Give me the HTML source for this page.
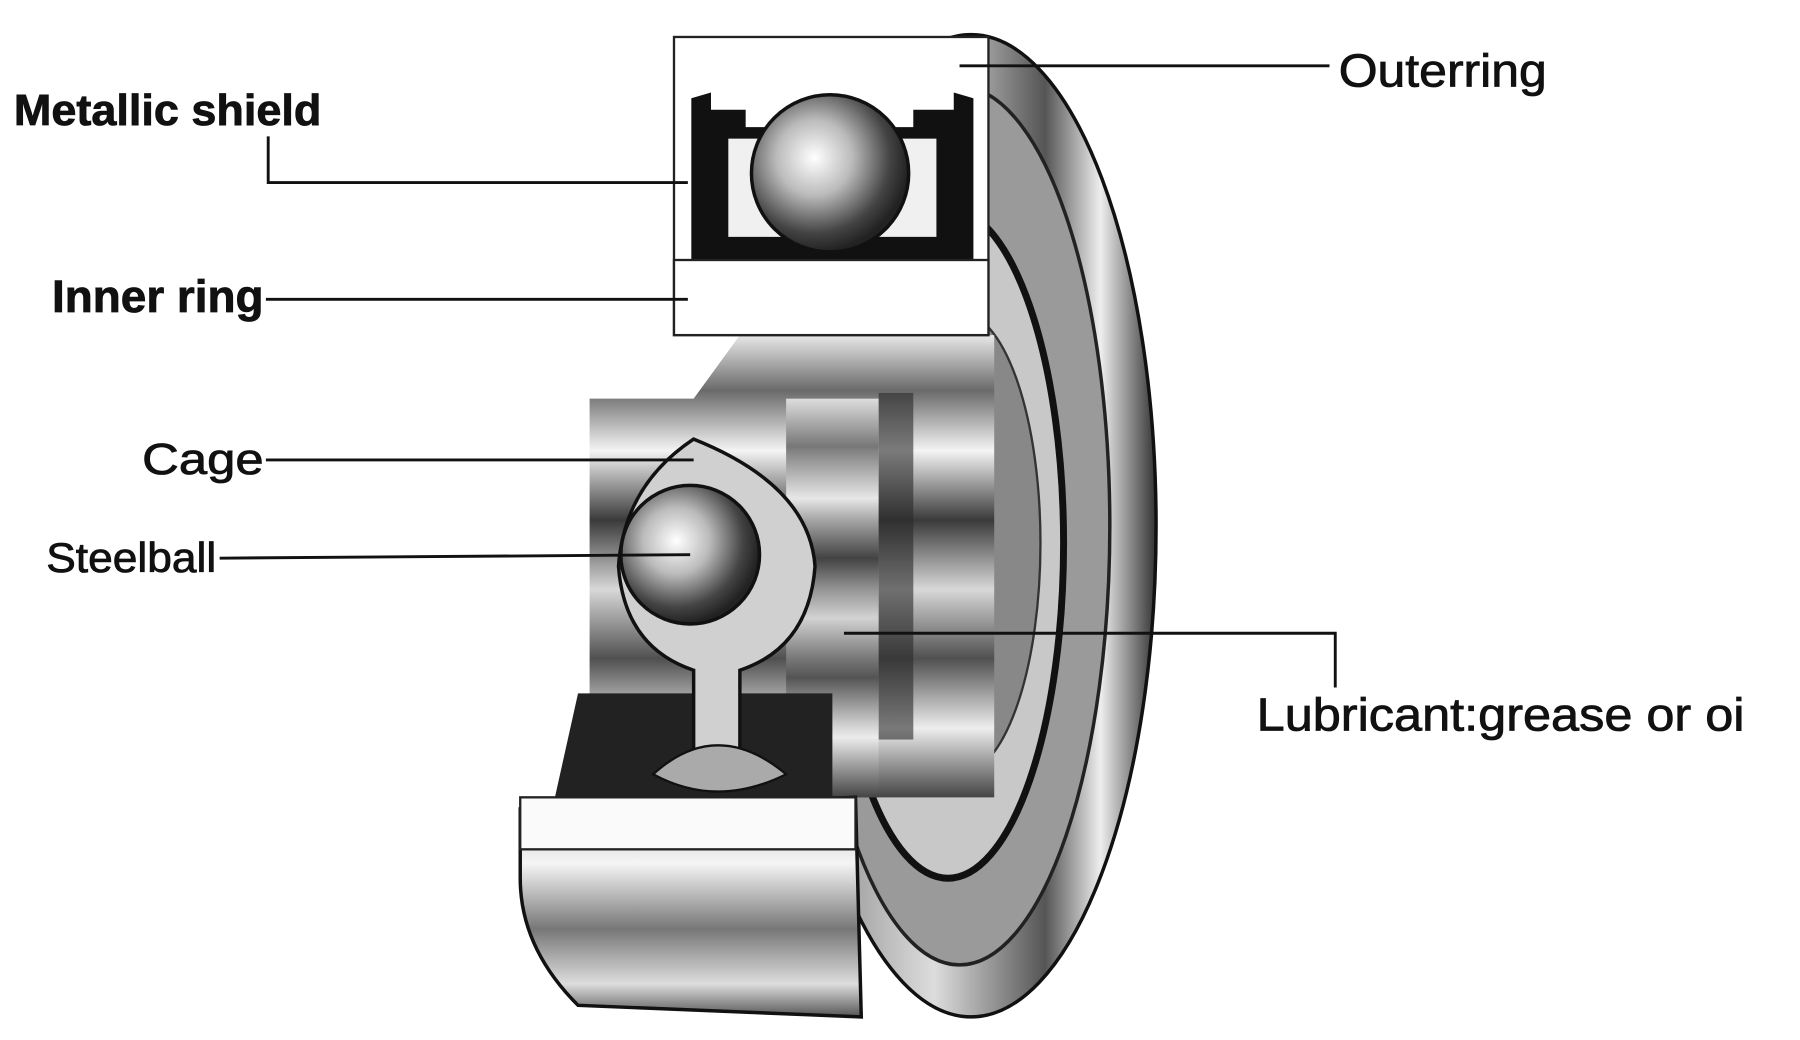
<!DOCTYPE html>
<html><head><meta charset="utf-8"><style>
html,body{margin:0;padding:0;background:#fff;width:1800px;height:1040px;overflow:hidden}
svg{display:block}
text{font-family:"Liberation Sans",Arial,sans-serif;fill:#111;stroke:#111;stroke-width:0.7}
</style></head><body>
<svg width="1800" height="1040" viewBox="0 0 1557 900" preserveAspectRatio="none">
<defs>
<linearGradient id="cyl" x1="0" y1="0" x2="0" y2="1">
<stop offset="0" stop-color="#e8e8e8"/><stop offset="0.12" stop-color="#6a6a6a"/><stop offset="0.25" stop-color="#f4f4f4"/><stop offset="0.4" stop-color="#3a3a3a"/><stop offset="0.55" stop-color="#d8d8d8"/><stop offset="0.7" stop-color="#505050"/><stop offset="0.85" stop-color="#eeeeee"/><stop offset="1" stop-color="#444"/>
</linearGradient>
<linearGradient id="ring" x1="0" y1="0" x2="1" y2="0">
<stop offset="0" stop-color="#777"/><stop offset="0.4" stop-color="#ddd"/><stop offset="0.7" stop-color="#555"/><stop offset="0.85" stop-color="#eee"/><stop offset="1" stop-color="#333"/>
</linearGradient>
<linearGradient id="bot" x1="0" y1="0" x2="0" y2="1">
<stop offset="0" stop-color="#bbb"/><stop offset="0.3" stop-color="#f5f5f5"/><stop offset="0.6" stop-color="#777"/><stop offset="0.85" stop-color="#ddd"/><stop offset="1" stop-color="#555"/>
</linearGradient>
<radialGradient id="ball" cx="0.4" cy="0.4" r="0.6">
<stop offset="0" stop-color="#fff"/><stop offset="0.4" stop-color="#bbb"/><stop offset="0.8" stop-color="#444"/><stop offset="1" stop-color="#222"/>
</radialGradient>
</defs>
<ellipse cx="840" cy="455" rx="160" ry="425" fill="url(#ring)" stroke="#111" stroke-width="3"/>
<ellipse cx="830" cy="455" rx="130" ry="380" fill="#9a9a9a" stroke="#222" stroke-width="3"/>
<ellipse cx="820" cy="470" rx="100" ry="290" fill="#c8c8c8" stroke="#111" stroke-width="6"/>
<ellipse cx="830" cy="470" rx="70" ry="200" fill="#888" stroke="#333" stroke-width="2"/>
<path d="M510 345 L600 345 L640 290 L860 290 L860 690 L510 690 Z" fill="url(#cyl)"/>
<rect x="760" y="340" width="30" height="300" fill="#2a2a2a" opacity="0.6"/>
<rect x="680" y="345" width="80" height="345" fill="url(#cyl)" opacity="0.9"/>
<rect x="583" y="32" width="272" height="258" fill="#fff" stroke="#222" stroke-width="2"/>
<path d="M598 85 L615 80 L615 95 L645 95 L645 110 L790 110 L790 95 L825 95 L825 80 L842 85 L842 225 L598 225 Z" fill="#111"/>
<path d="M630 120 L810 120 L810 205 L630 205 Z" fill="#f0f0f0"/>
<circle cx="718" cy="150" r="68" fill="url(#ball)" stroke="#111" stroke-width="3"/>
<rect x="583" y="225" width="272" height="65" fill="#fff" stroke="#222" stroke-width="2"/>
<path d="M450 700 L740 690 L745 880 L500 870 Q450 820 450 760 Z" fill="url(#bot)" stroke="#111" stroke-width="3"/>
<rect x="450" y="690" width="290" height="45" fill="#fafafa" stroke="#222" stroke-width="2"/>
<path d="M500 600 L720 600 L720 690 L480 690 Z" fill="#222"/>
<path d="M600 380 Q700 420 705 490 Q700 560 640 580 L640 660 L600 660 L600 580 Q540 560 535 490 Q540 420 600 380 Z" fill="#d0d0d0" stroke="#111" stroke-width="3"/>
<circle cx="597" cy="480" r="60" fill="url(#ball)" stroke="#111" stroke-width="3"/>
<path d="M565 670 Q620 620 680 670 Q620 700 565 670 Z" fill="#aaa" stroke="#111" stroke-width="2"/>
<g stroke="#111" stroke-width="2.5" fill="none">
<path d="M232 118 L232 158 L595 158"/>
<path d="M830 57 L1150 57"/>
<path d="M230 259 L595 259"/>
<path d="M230 398 L600 398"/>
<path d="M190 483 L597 480"/>
<path d="M730 548 L1155 548 L1155 595"/>
</g>
<text x="12" y="108" font-size="38" font-weight="bold" textLength="266" lengthAdjust="spacingAndGlyphs">Metallic shield</text>
<text x="1158" y="75" font-size="40" textLength="180" lengthAdjust="spacingAndGlyphs">Outerring</text>
<text x="45" y="270" font-size="39" font-weight="bold" textLength="183" lengthAdjust="spacingAndGlyphs">Inner ring</text>
<text x="123" y="410" font-size="38" textLength="105" lengthAdjust="spacingAndGlyphs">Cage</text>
<text x="40" y="495" font-size="36" textLength="147" lengthAdjust="spacingAndGlyphs">Steelball</text>
<text x="1087" y="632" font-size="40" textLength="422" lengthAdjust="spacingAndGlyphs">Lubricant:grease or oi</text>
</svg>
</body></html>
